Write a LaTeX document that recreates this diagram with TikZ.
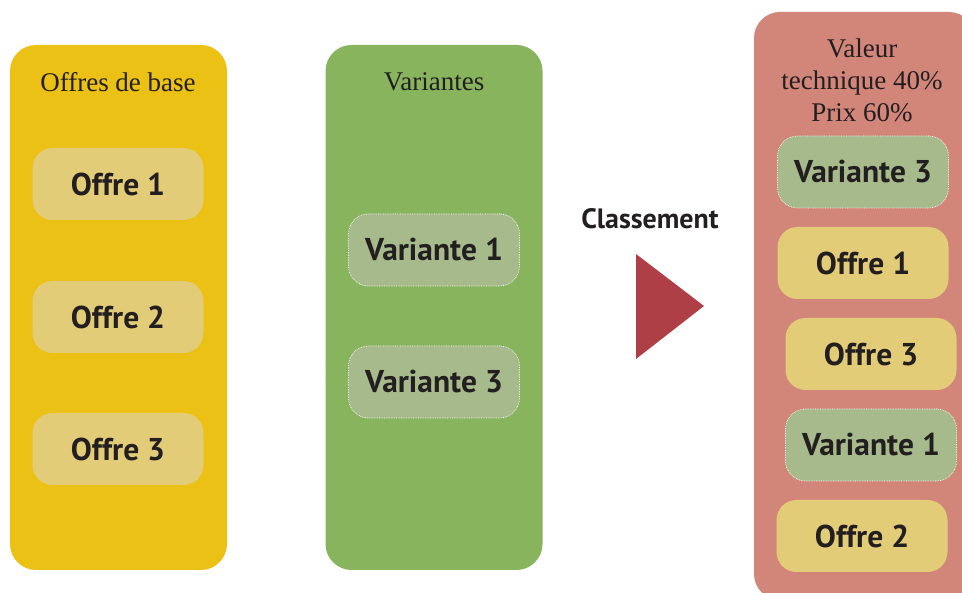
\documentclass[tikz,border=0pt]{standalone}
\usepackage{fontspec}
\setmainfont{Liberation Serif}
\setsansfont{PT Sans}
\usepackage{tikz}
\usetikzlibrary{positioning,shapes.geometric}
\definecolor{ink}        {HTML}{231F20}
\definecolor{basefill}   {HTML}{EBC116}
\definecolor{varfill}    {HTML}{88B45D}
\definecolor{rankfill}   {HTML}{D2867A}
\definecolor{offrefill}  {HTML}{E3CC78}
\definecolor{variantfill}{HTML}{A6BA8C}
\definecolor{arrowfill}  {HTML}{AF3F47}
\tikzset{
  every node/.style={text=ink},
  % --- panels
  panel/.style   = {rounded corners=26pt, inner sep=0pt, minimum width=217pt,
                    minimum height=525pt},
  head/.style    = {font=\fontsize{27}{32}\selectfont, align=center, inner sep=0pt},
  % --- entries
  entry/.style   = {rounded corners=20pt, inner sep=0pt, minimum width=171pt,
                    minimum height=72pt, font=\sffamily\bfseries\fontsize{31.5}{36}\selectfont},
  offre/.style   = {entry, fill=offrefill},
  variante/.style= {entry, fill=variantfill, draw=white, densely dotted, line width=0.7pt},
  lbl/.style     = {font=\sffamily\bfseries\fontsize{28}{32}\selectfont, inner sep=0pt},
}

\begin{document}
\begin{tikzpicture}[x=1pt, y=-1pt]
  \useasboundingbox (0,0) rectangle (962,593);
  \clip (0,0) rectangle (962,593);
  % --- panels
  \node[panel, fill=basefill] (pbase) at (118.5,307.5) {};
  \node[panel, fill=varfill]  (pvar)  at (434,307.5) {};
  \node[panel, fill=rankfill, minimum width=221pt, minimum height=588pt] (prank) at (864.5,306) {};
  \node[head] (hbase) at (118,82) {Offres de base};
  \node[head] (hvar)  at (434,82) {Variantes};
  \node[head] (hrank) at (862,80) {Valeur\\technique 40\%\\Prix 60\%};
  % --- left columns
  \node[offre] (o1) at (118,184) {Offre 1};
  \node[offre] (o2) at (118,317) {Offre 2};
  \node[offre] (o3) at (118,449) {Offre 3};
  \node[variante] (v1) at (434,250) {Variante 1};
  \node[variante] (v3) at (434,382) {Variante 3};
  % --- ranking
  \node[lbl] (cls) at (650,219) {Classement};
  \coordinate (ta) at (636,254);
  \coordinate (tb) at (704,306);
  \coordinate (tc) at (636,359);
  \fill[arrowfill] (ta) -- (tb) -- (tc) -- cycle;
  \node[variante] (r1) at (863,172) {Variante 3};
  \node[offre]    (r2) at (863,263) {Offre 1};
  \node[offre]    (r3) at (871,354) {Offre 3};
  \node[variante] (r4) at (871,445) {Variante 1};
  \node[offre]    (r5) at (862,536) {Offre 2};
\end{tikzpicture}
\end{document}
